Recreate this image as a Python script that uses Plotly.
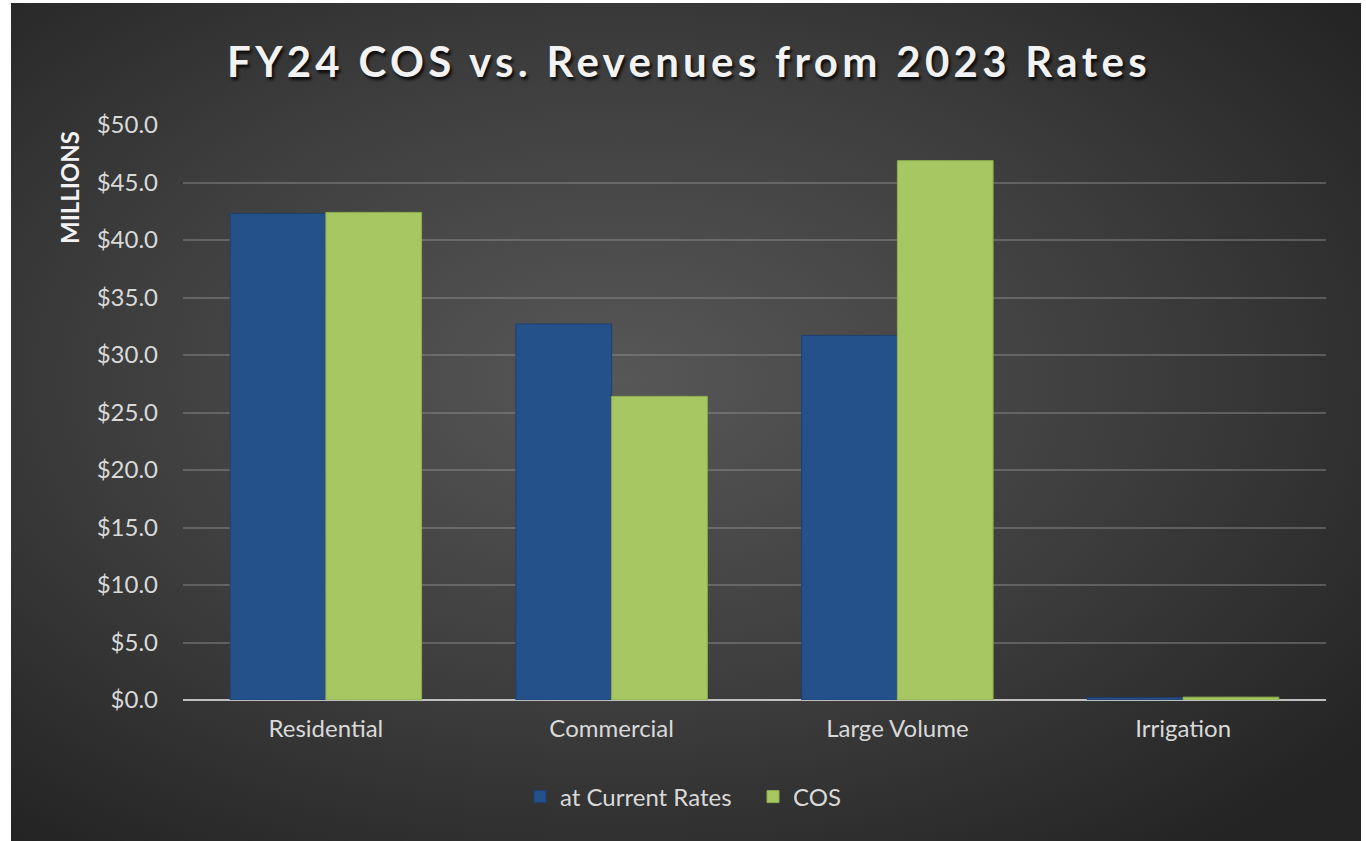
import base64
import plotly.graph_objects as go

categories = ["Residential", "Commercial", "Large Volume", "Irrigation"]
current_rates = [42.3, 32.7, 31.7, 0.2]
cos = [42.4, 26.4, 46.9, 0.25]
tick_vals = [0, 5, 10, 15, 20, 25, 30, 35, 40, 45, 50]
tick_text = ["$%.1f" % v for v in tick_vals]

FONT = "Lato, 'Open Sans', sans-serif"

W, H = 1366, 841
L, R, T, B = 183, 40, 125, 141
pw, ph = W - L - R, H - T - B

def px_to_paper_x(px):
    return (px - L) / pw

def px_to_paper_y(py):
    return (H - B - py) / ph

svg = """<svg xmlns='http://www.w3.org/2000/svg' width='1350' height='840' preserveAspectRatio='none'>
<defs><radialGradient id='g' cx='45%' cy='45%' r='70%'>
<stop offset='0' stop-color='#575757'/><stop offset='0.55' stop-color='#3d3d3d'/><stop offset='1' stop-color='#242424'/>
</radialGradient></defs><rect width='1350' height='840' fill='url(#g)'/></svg>"""
svg_uri = "data:image/svg+xml;base64," + base64.b64encode(svg.encode()).decode()

fig = go.Figure()
fig.add_trace(go.Bar(
    name="at Current Rates", x=categories, y=current_rates,
    marker=dict(color="#25518A", line=dict(color="#1d4170", width=1)),
))
fig.add_trace(go.Bar(
    name="COS", x=categories, y=cos,
    marker=dict(color="#A6C761", line=dict(color="#8fae4f", width=1)),
))

x0, x1 = px_to_paper_x(11), px_to_paper_x(1361)
y0, y1 = px_to_paper_y(3), px_to_paper_y(841)
fig.add_layout_image(dict(
    source=svg_uri, xref="paper", yref="paper", x=x0, y=y0,
    sizex=x1 - x0, sizey=y0 - y1, sizing="stretch", layer="below",
    xanchor="left", yanchor="top",
))

fig.update_layout(
    width=W, height=H,
    margin=dict(l=L, r=R, t=T, b=B),
    paper_bgcolor="white",
    plot_bgcolor="rgba(0,0,0,0)",
    barmode="group", bargap=0.33, bargroupgap=0.0,
    title=dict(
        text="<b>FY24 COS vs. Revenues from 2023 Rates</b>",
        x=px_to_paper_x(689), xref="paper", xanchor="center",
        y=1 - 62 / H, yanchor="middle",
        font=dict(family=FONT, size=42, color="#f2f2f2",
                  shadow="2px 3px 3px rgba(0,0,0,0.8)"),
    ),
    font=dict(family=FONT, color="#d9d9d9", size=24),
    showlegend=True,
    legend=dict(
        orientation="h", x=px_to_paper_x(753), xanchor="center",
        y=px_to_paper_y(797), yanchor="middle",
        font=dict(family=FONT, size=24, color="#d9d9d9"),
        bgcolor="rgba(0,0,0,0)", itemwidth=30, tracegroupgap=0,
        entrywidth=188,
    ),
    xaxis=dict(
        showgrid=False, showline=False, ticks="",
        tickfont=dict(family=FONT, size=24, color="#d9d9d9"),
        ticklabelstandoff=12,
    ),
    yaxis=dict(
        range=[0, 50], tickvals=tick_vals, ticktext=tick_text,
        showgrid=True, gridcolor="rgba(150,150,150,0.42)", gridwidth=2,
        zeroline=True, zerolinecolor="#bfbfbf", zerolinewidth=2,
        showline=False, ticks="",
        tickfont=dict(family=FONT, size=24, color="#d9d9d9"),
        ticklabelstandoff=24,
    ),
    annotations=[dict(
        text="<b>MILLIONS</b>", textangle=-90,
        xref="paper", yref="paper",
        x=px_to_paper_x(70), y=px_to_paper_y(188),
        showarrow=False, xanchor="center", yanchor="middle",
        font=dict(family=FONT, size=24, color="#f2f2f2"),
    )],
)

post = """
document.querySelectorAll('.gtitle').forEach(function(t){ t.style.letterSpacing='4.3px'; });
"""

fig.write_html("out.html", post_script=post)
